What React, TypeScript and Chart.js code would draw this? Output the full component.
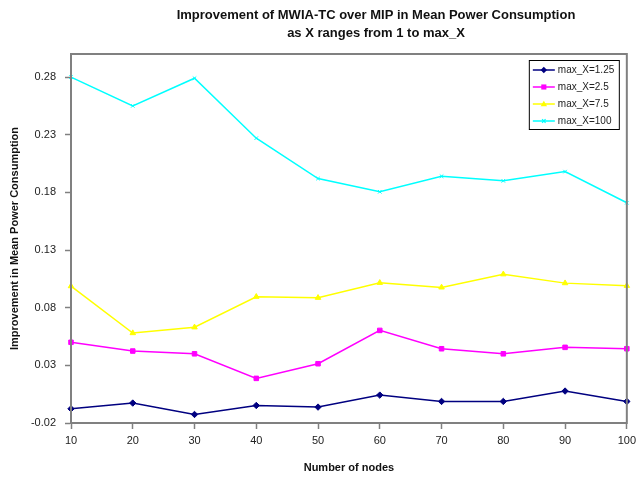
import React, { useEffect, useRef } from "react";
import { Chart, registerables } from "chart.js";

Chart.register(...registerables);

const nodeCounts = ["10", "20", "30", "40", "50", "60", "70", "80", "90", "100"];
const seriesLabels = ["max_X=1.25", "max_X=2.5", "max_X=7.5", "max_X=100"];
const maxX125 = [-0.0077, -0.0027, -0.0126, -0.0048, -0.0062, 0.0042, -0.0013, -0.0013, 0.0077, -0.0013];
const maxX25 = [0.05, 0.0424, 0.04, 0.0187, 0.0314, 0.0603, 0.0444, 0.04, 0.0456, 0.0444];
const maxX75 = [0.0987, 0.058, 0.063, 0.0895, 0.0886, 0.1016, 0.0976, 0.109, 0.1013, 0.099];
const maxX100 = [0.28, 0.255, 0.279, 0.227, 0.192, 0.1805, 0.194, 0.19, 0.198, 0.171];
const yTicks = [-0.02, 0.03, 0.08, 0.13, 0.18, 0.23, 0.28];
const titleLines = [
  "Improvement of MWIA-TC over MIP in Mean Power Consumption",
  "as X ranges from 1 to max_X",
];
const xTitle = "Number of nodes";
const yTitle = "Improvement in Mean Power Consumption";

const seriesColors = ["#000080", "#FF00FF", "#FFFF00", "#00FFFF"];
const seriesMarkers = ["rectRot", "rect", "triangle", "crossRot"];
const seriesValues = [maxX125, maxX25, maxX75, maxX100];

const FONT = "Arial, 'Liberation Sans', sans-serif";

function drawMarker(ctx: CanvasRenderingContext2D, style: string, x: number, y: number, r: number, color: string) {
  ctx.save();
  ctx.fillStyle = color;
  ctx.strokeStyle = color;
  ctx.lineWidth = 1.2;
  ctx.beginPath();
  if (style === "rectRot") {
    ctx.moveTo(x, y - r);
    ctx.lineTo(x + r, y);
    ctx.lineTo(x, y + r);
    ctx.lineTo(x - r, y);
    ctx.closePath();
    ctx.fill();
  } else if (style === "rect") {
    ctx.rect(x - r * 0.8, y - r * 0.8, r * 1.6, r * 1.6);
    ctx.fill();
  } else if (style === "triangle") {
    ctx.moveTo(x, y - r);
    ctx.lineTo(x + r, y + r * 0.7);
    ctx.lineTo(x - r, y + r * 0.7);
    ctx.closePath();
    ctx.fill();
  } else {
    ctx.moveTo(x - r * 0.7, y - r * 0.7);
    ctx.lineTo(x + r * 0.7, y + r * 0.7);
    ctx.moveTo(x + r * 0.7, y - r * 0.7);
    ctx.lineTo(x - r * 0.7, y + r * 0.7);
    ctx.stroke();
  }
  ctx.restore();
}

const decorPlugin = {
  id: "decor",
  afterDraw(chart: any) {
    const ctx: CanvasRenderingContext2D = chart.ctx;
    const ca = chart.chartArea;
    ctx.save();
    // plot border
    ctx.strokeStyle = "#808080";
    ctx.lineWidth = 2;
    ctx.strokeRect(ca.left, ca.top, ca.right - ca.left, ca.bottom - ca.top);

    // title
    ctx.fillStyle = "#111";
    ctx.font = `bold 13px ${FONT}`;
    ctx.textAlign = "center";
    ctx.textBaseline = "middle";
    ctx.fillText(titleLines[0], 376, 15);
    ctx.fillText(titleLines[1], 376, 33);

    // legend
    const lx = ca.right - 98;
    const ly = ca.top + 6;
    const lw = 90;
    const lh = 69;
    ctx.fillStyle = "#fff";
    ctx.fillRect(lx, ly, lw, lh);
    ctx.strokeStyle = "#000";
    ctx.lineWidth = 1;
    ctx.strokeRect(lx + 0.5, ly + 0.5, lw, lh);
    chart.data.datasets.forEach((ds: any, i: number) => {
      const y = ly + 10 + 17 * i;
      ctx.strokeStyle = ds.borderColor;
      ctx.lineWidth = 1.5;
      ctx.beginPath();
      ctx.moveTo(lx + 4, y);
      ctx.lineTo(lx + 26, y);
      ctx.stroke();
      drawMarker(ctx, ds.pointStyle, lx + 15, y, ds.pointRadius, ds.borderColor);
      ctx.fillStyle = "#222";
      ctx.font = `10px ${FONT}`;
      ctx.textAlign = "left";
      ctx.textBaseline = "middle";
      ctx.fillText(ds.label, lx + 29, y);
    });
    ctx.restore();
  },
};

export default function App() {
  const ref = useRef<HTMLCanvasElement | null>(null);
  useEffect(() => {
    if (!ref.current) return;
    const chart = new Chart(ref.current, {
      type: "line",
      data: {
        labels: nodeCounts,
        datasets: seriesLabels.map((label, i) => ({
          label,
          data: seriesValues[i],
          borderColor: seriesColors[i],
          backgroundColor: seriesColors[i],
          pointBackgroundColor: seriesColors[i],
          pointBorderColor: seriesColors[i],
          borderWidth: 1.5,
          pointStyle: seriesMarkers[i] as any,
          pointRadius: i === 3 ? 2.5 : 3.2,
          pointBorderWidth: 1,
          tension: 0,
          fill: false,
        })),
      },
      options: {
        animation: false,
        responsive: true,
        maintainAspectRatio: false,
        layout: { padding: { top: 54, right: 9, left: 0, bottom: 0 } },
        plugins: {
          legend: { display: false },
          title: { display: false },
          tooltip: { enabled: false },
        },
        scales: {
          x: {
            type: "category",
            offset: false,
            grid: {
              drawOnChartArea: false,
              drawTicks: true,
              tickLength: 6,
              tickColor: "#808080",
              tickWidth: 1.5,
            },
            border: { display: true, color: "#808080", width: 2 },
            ticks: {
              color: "#222",
              font: { family: FONT, size: 11 },
              padding: 5,
              maxRotation: 0,
              autoSkip: false,
            },
            title: {
              display: true,
              text: xTitle,
              color: "#111",
              font: { family: FONT, size: 11, weight: "bold" },
              padding: { top: 0, bottom: 2.4 },
            },
            afterFit(scale: any) {
              scale.height = 54;
            },
          },
          y: {
            type: "linear",
            min: -0.02,
            max: 0.3,
            afterBuildTicks(scale: any) {
              scale.ticks = yTicks.map((v) => ({ value: v }));
            },
            grid: {
              drawOnChartArea: false,
              drawTicks: true,
              tickLength: 6,
              tickColor: "#808080",
              tickWidth: 1.5,
            },
            border: { display: true, color: "#808080", width: 2 },
            ticks: {
              color: "#222",
              font: { family: FONT, size: 11 },
              padding: 9,
              callback: (v: any) => Number(v).toFixed(2),
            },
            title: {
              display: true,
              text: yTitle,
              color: "#111",
              font: { family: FONT, size: 11, weight: "bold" },
              padding: { top: 8.4, bottom: 0 },
            },
            afterFit(scale: any) {
              scale.width = 71;
            },
          },
        },
      },
      plugins: [decorPlugin],
    });
    return () => chart.destroy();
  }, []);
  return (
    <div style={{ position: "fixed", left: 0, top: 0, width: 641, height: 477, background: "#fff" }}>
      <canvas ref={ref} />
    </div>
  );
}
